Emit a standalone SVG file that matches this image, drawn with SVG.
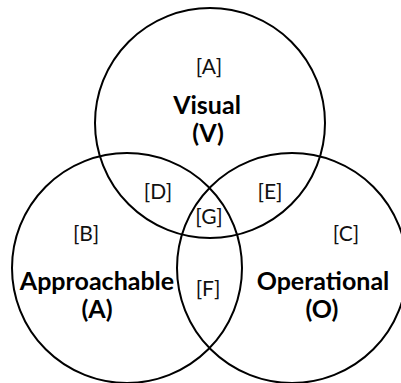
<svg xmlns="http://www.w3.org/2000/svg" width="401" height="383" viewBox="0 0 401 383">
<style>
.c{fill:none;stroke:#000;stroke-width:2}
.l{font-family:Lato,"Open Sans","Liberation Sans",sans-serif;font-size:21px;fill:#111;text-anchor:middle}
.b{font-family:Lato,"Open Sans","Liberation Sans",sans-serif;font-size:25px;font-weight:bold;fill:#000;text-anchor:middle}
</style>
<rect width="401" height="383" fill="#fff"/>
<g id="visual">
<circle class="c" cx="210" cy="123" r="115"/>
<text class="l" x="209" y="74">[A]</text>
<text class="b" x="207" y="114">Visual</text>
<text class="b" x="208" y="142">(V)</text>
</g>
<g id="approachable">
<circle class="c" cx="127" cy="268" r="115"/>
<text class="l" x="86" y="241">[B]</text>
<text class="b" x="97" y="290">Approachable</text>
<text class="b" x="97" y="318">(A)</text>
</g>
<g id="operational">
<circle class="c" cx="292" cy="268" r="115"/>
<text class="l" x="346" y="241">[C]</text>
<text class="b" x="323" y="290">Operational</text>
<text class="b" x="322" y="318">(O)</text>
</g>
<g id="overlaps">
<text class="l" x="158" y="199">[D]</text>
<text class="l" x="270" y="199">[E]</text>
<text class="l" x="209" y="224">[G]</text>
<text class="l" x="208" y="296">[F]</text>
</g>
</svg>
